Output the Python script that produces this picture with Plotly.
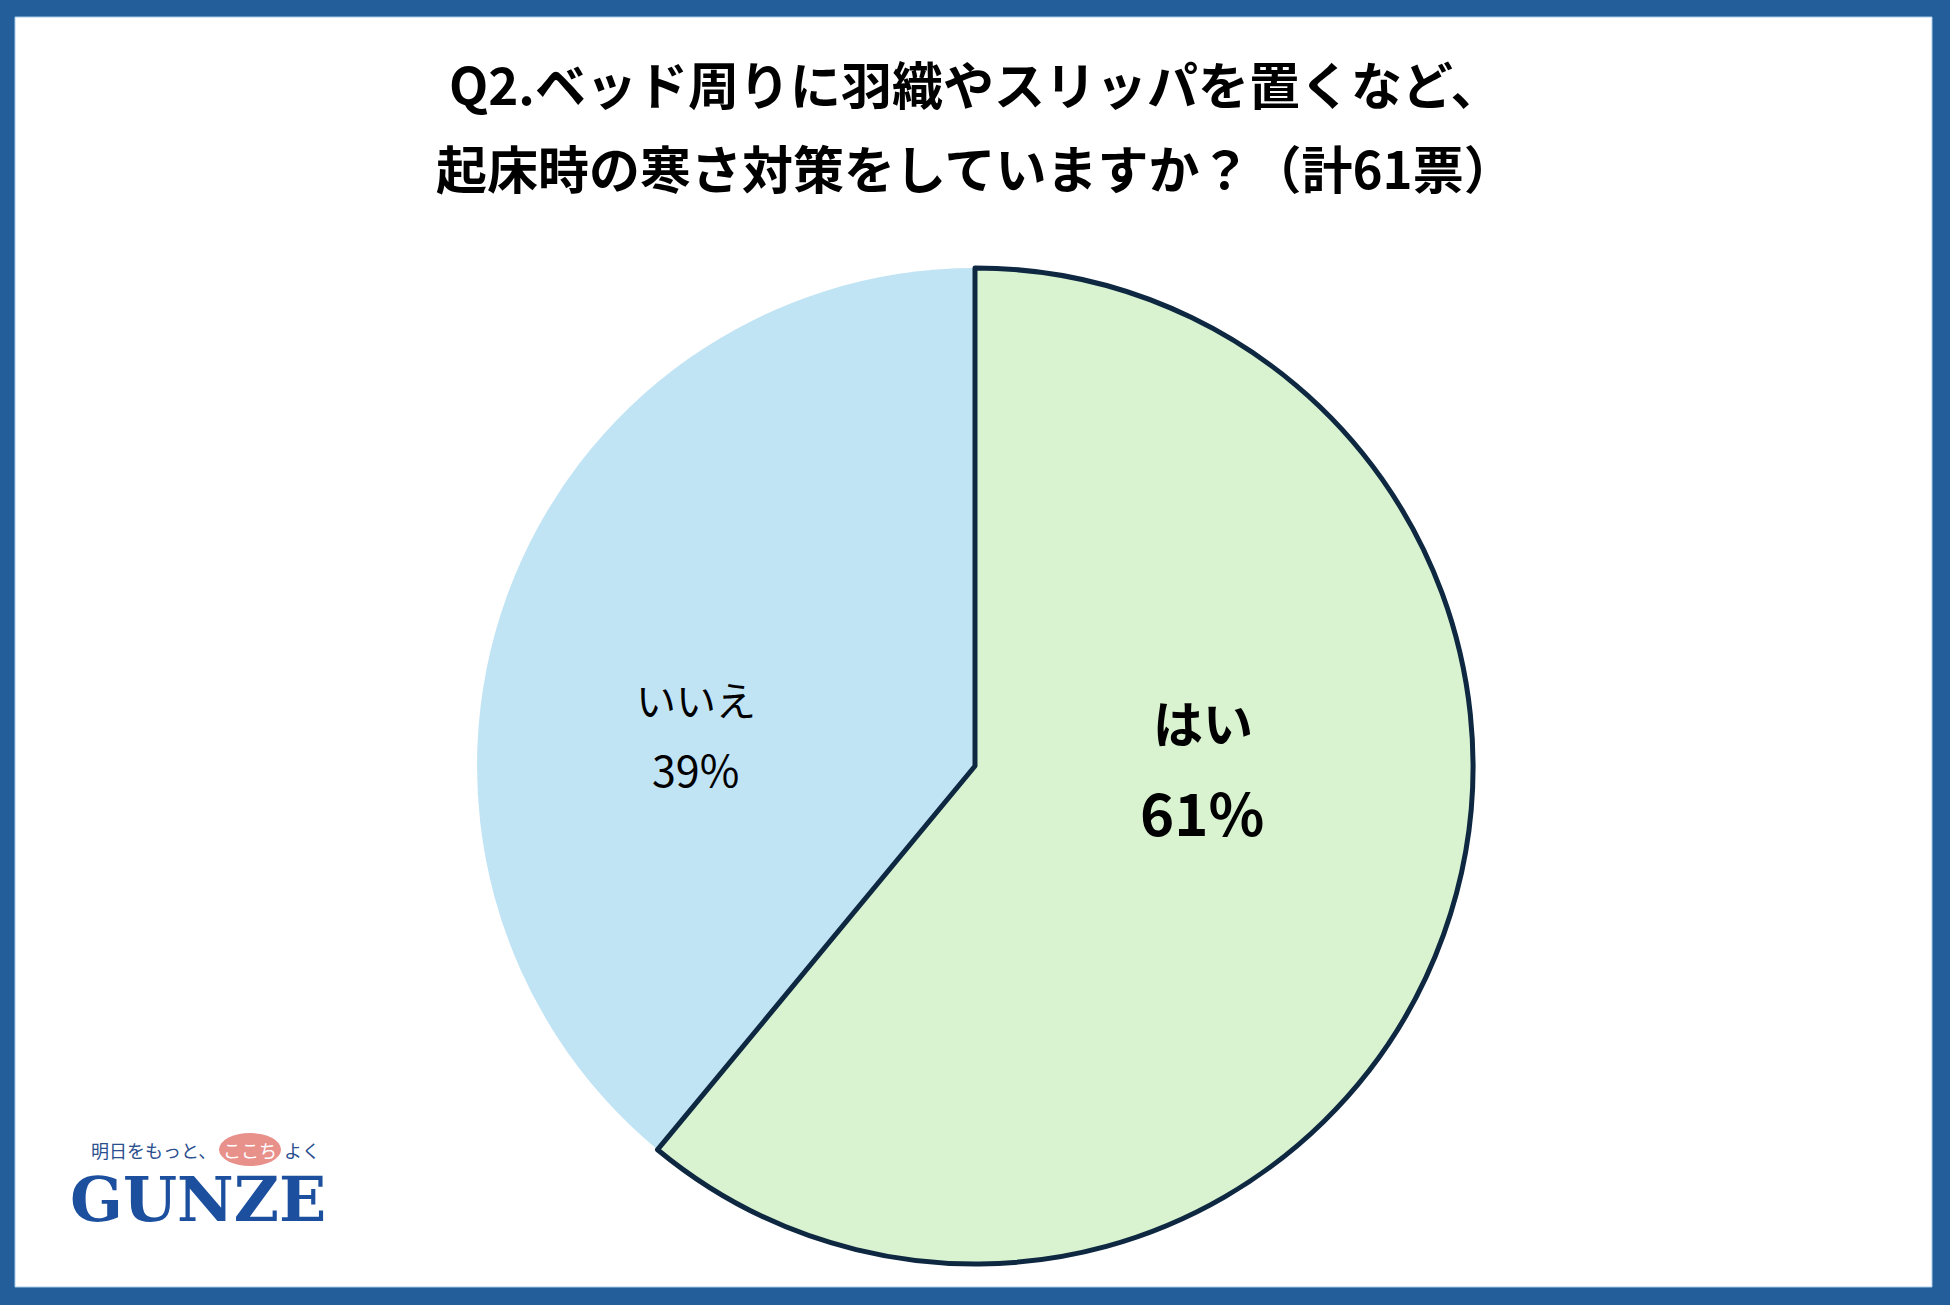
import plotly.graph_objects as go

# ---- data ----
labels = ["はい", "いいえ"]
values = [61, 39]
percent_text = ["61%", "39%"]
slice_colors = ["#D9F2D0", "#C1E4F5"]
title_lines = ["Q2.ベッド周りに羽織やスリッパを置くなど、",
               "起床時の寒さ対策をしていますか？（計61票）"]
tagline_parts = ["明日をもっと、", "ここち", "よく"]
brand = "GUNZE"

W, H = 1950, 1305
BORDER = "#235E9B"
JP = "Noto Sans CJK JP"


def px(x):
    return x / W


def py(y):
    return 1 - y / H


# draw "いいえ" first so the outlined "はい" slice sits on top;
# start it where "はい" ends (clockwise from 12 o'clock)
start_angle = values[0] / sum(values) * 360
fig = go.Figure(go.Pie(
    labels=labels[::-1],
    values=values[::-1],
    sort=False,
    direction="clockwise",
    rotation=start_angle,
    marker=dict(colors=slice_colors[::-1],
                line=dict(color=["rgba(0,0,0,0)", "#0E2841"], width=[0, 5])),
    textinfo="none",
    hoverinfo="skip",
    showlegend=False,
    domain=dict(x=[px(477), px(1473)], y=[py(1264), py(268)]),
))

annotations = []
# title
for text, yc in zip(title_lines, [83, 167]):
    annotations.append(dict(x=px(975), y=py(yc), xref="paper", yref="paper",
                            text=f"<b>{text}</b>", showarrow=False,
                            xanchor="center", yanchor="middle",
                            font=dict(family=JP, size=51, color="#000000")))

# slice labels
label_pos = [((1203, 721), (1202, 811)), ((696, 699), (695, 768))]
label_sizes = [(50, 58), (40, 43)]
label_bold = [True, False]
for lab, pct, (p1, p2), (s1, s2), bold in zip(labels, percent_text, label_pos,
                                              label_sizes, label_bold):
    for txt, (xx, yy), sz in [(lab, p1, s1), (pct, p2, s2)]:
        t = f"<b>{txt}</b>" if bold else txt
        annotations.append(dict(x=px(xx), y=py(yy), xref="paper", yref="paper",
                                text=t, showarrow=False,
                                xanchor="center", yanchor="middle",
                                font=dict(family=JP, size=sz, color="#000000")))

# logo
annotations.append(dict(x=px(218), y=py(1150), xref="paper", yref="paper",
                        text=tagline_parts[0], showarrow=False,
                        xanchor="right", yanchor="middle",
                        font=dict(family=JP, size=18, color="#2A4F8E")))
annotations.append(dict(x=px(250), y=py(1150), xref="paper", yref="paper",
                        text=tagline_parts[1], showarrow=False,
                        xanchor="center", yanchor="middle",
                        font=dict(family=JP, size=18, color="#FFFFFF")))
annotations.append(dict(x=px(282), y=py(1150), xref="paper", yref="paper",
                        text=tagline_parts[2], showarrow=False,
                        xanchor="left", yanchor="middle",
                        font=dict(family=JP, size=18, color="#2A4F8E")))
annotations.append(dict(x=px(198), y=py(1199), xref="paper", yref="paper",
                        text=f"<b>{brand}</b>", showarrow=False,
                        xanchor="center", yanchor="middle",
                        font=dict(family="DejaVu Serif", size=62, color="#1C4F9E")))

shapes = [
    dict(type="rect", xref="paper", yref="paper", layer="below",
         x0=px(15), x1=px(1932), y0=py(1287), y1=py(17),
         fillcolor="#FFFFFF", line=dict(color="#A9CBEA", width=1)),
    dict(type="circle", xref="paper", yref="paper", layer="below",
         x0=px(219), x1=px(281), y0=py(1166), y1=py(1133),
         fillcolor="#E8908A", line=dict(width=0)),
]

fig.update_layout(
    width=W, height=H,
    margin=dict(l=0, r=0, t=0, b=0),
    paper_bgcolor=BORDER,
    plot_bgcolor="#FFFFFF",
    annotations=annotations,
    shapes=shapes,
)

fig.write_html("out.html", config={"displayModeBar": False},
               post_script="document.body.style.margin='0';document.body.style.overflow='hidden';")
